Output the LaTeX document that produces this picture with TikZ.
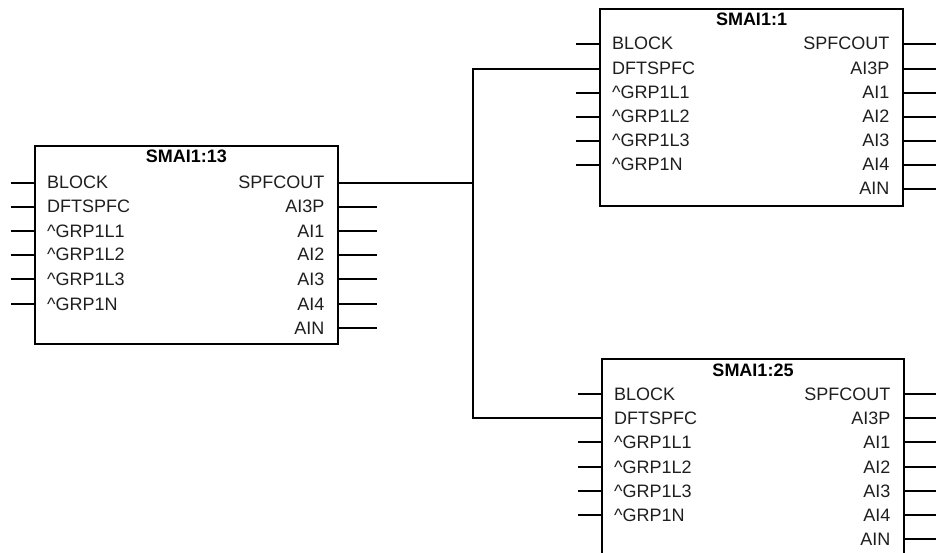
\documentclass[tikz,border=0pt]{standalone}
\usepackage{fontspec}
\setmainfont{Liberation Sans}
\usetikzlibrary{calc}
\tikzset{
  x=1pt,y=-1pt,
  wire/.style={line width=2pt,black,line cap=butt},
  boxline/.style={line width=2pt,black,line join=miter},
  blockbody/.style={rectangle,anchor=north west,inner sep=0pt,outer sep=0pt},
  pinleft/.style={anchor=base west,inner sep=0pt,font=\fontsize{18}{18}\selectfont,text=black!88},
  pinright/.style={anchor=base east,inner sep=0pt,font=\fontsize{18}{18}\selectfont,text=black!88},
  blocktitle/.style={anchor=base,inner sep=0pt,font=\fontsize{18}{18}\selectfont\bfseries,text=black},
}
% #1 name, #2 title, #3 left x, #4 top y, #5 width, #6 height, #7 first row y
\newcommand{\smaiblock}[7]{%
  \node[blockbody,minimum width=#5pt,minimum height=#6pt] (#1) at (#3,#4) {};
  \node[blocktitle] (#1title) at ($(#3,#4)+(#5/2,17)$) {#2};
  \foreach \lab/\idx in {BLOCK/0,DFTSPFC/1,{\string^GRP1L1}/2,{\string^GRP1L2}/3,{\string^GRP1L3}/4,{\string^GRP1N}/5}{
    \pgfmathsetmacro{\rowy}{round(#7+24.2*\idx)}
    \coordinate (#1in\idx) at (#3,\rowy);
    \node[pinleft] (#1inlab\idx) at ($(#1in\idx)+(12,6)$) {\lab};
  }
  \foreach \lab/\idx in {SPFCOUT/0,AI3P/1,AI1/2,AI2/3,AI3/4,AI4/5,AIN/6}{
    \pgfmathsetmacro{\rowy}{round(#7+24.2*\idx)}
    \coordinate (#1out\idx) at ($(#3,\rowy)+(#5,0)$);
    \node[pinright] (#1outlab\idx) at ($(#1out\idx)+(-13.5,6)$) {\lab};
  }
}
\begin{document}
\begin{tikzpicture}
\useasboundingbox (0,0) rectangle (936,553);
\fill[white] (0,0) rectangle (936,553);
\smaiblock{a}{SMAI1:13}{35}{146}{303}{198}{182.6}
\smaiblock{b}{SMAI1:1}{600}{9}{303}{197}{44.3}
\smaiblock{c}{SMAI1:25}{602}{359}{302}{194}{394}
% block outlines
\draw[boxline] (a.north west) rectangle (a.south east);
\draw[boxline] (b.north west) rectangle (b.south east);
\draw[boxline] (c.south west) -- (c.north west) -- (c.north east) -- (c.south east);
% free ends of the stubs
\foreach \i in {0,...,5}{
  \coordinate (aL\i) at ($(ain\i)+(-24,0)$);
  \draw[wire] (aL\i) -- (ain\i);
}
\foreach \i in {1,...,6}{
  \coordinate (aR\i) at ($(aout\i)+(39,0)$);
  \draw[wire] (aout\i) -- (aR\i);
}
\foreach \i in {0,2,3,4,5}{
  \coordinate (bL\i) at ($(bin\i)+(-24,0)$);
  \draw[wire] (bL\i) -- (bin\i);
  \coordinate (cL\i) at ($(cin\i)+(-24,0)$);
  \draw[wire] (cL\i) -- (cin\i);
}
\foreach \i in {0,...,6}{
  \coordinate (bR\i) at ($(bout\i)+(33,0)$);
  \draw[wire] (bout\i) -- (bR\i);
  \coordinate (cR\i) at ($(cout\i)+(32,0)$);
  \draw[wire] (cout\i) -- (cR\i);
}
% the net
\coordinate (junction) at (473,183);
\draw[wire] (aout0) -- (junction);
\draw[wire,line join=miter] (bin1) -| (junction) |- (cin1);
\end{tikzpicture}
\end{document}
